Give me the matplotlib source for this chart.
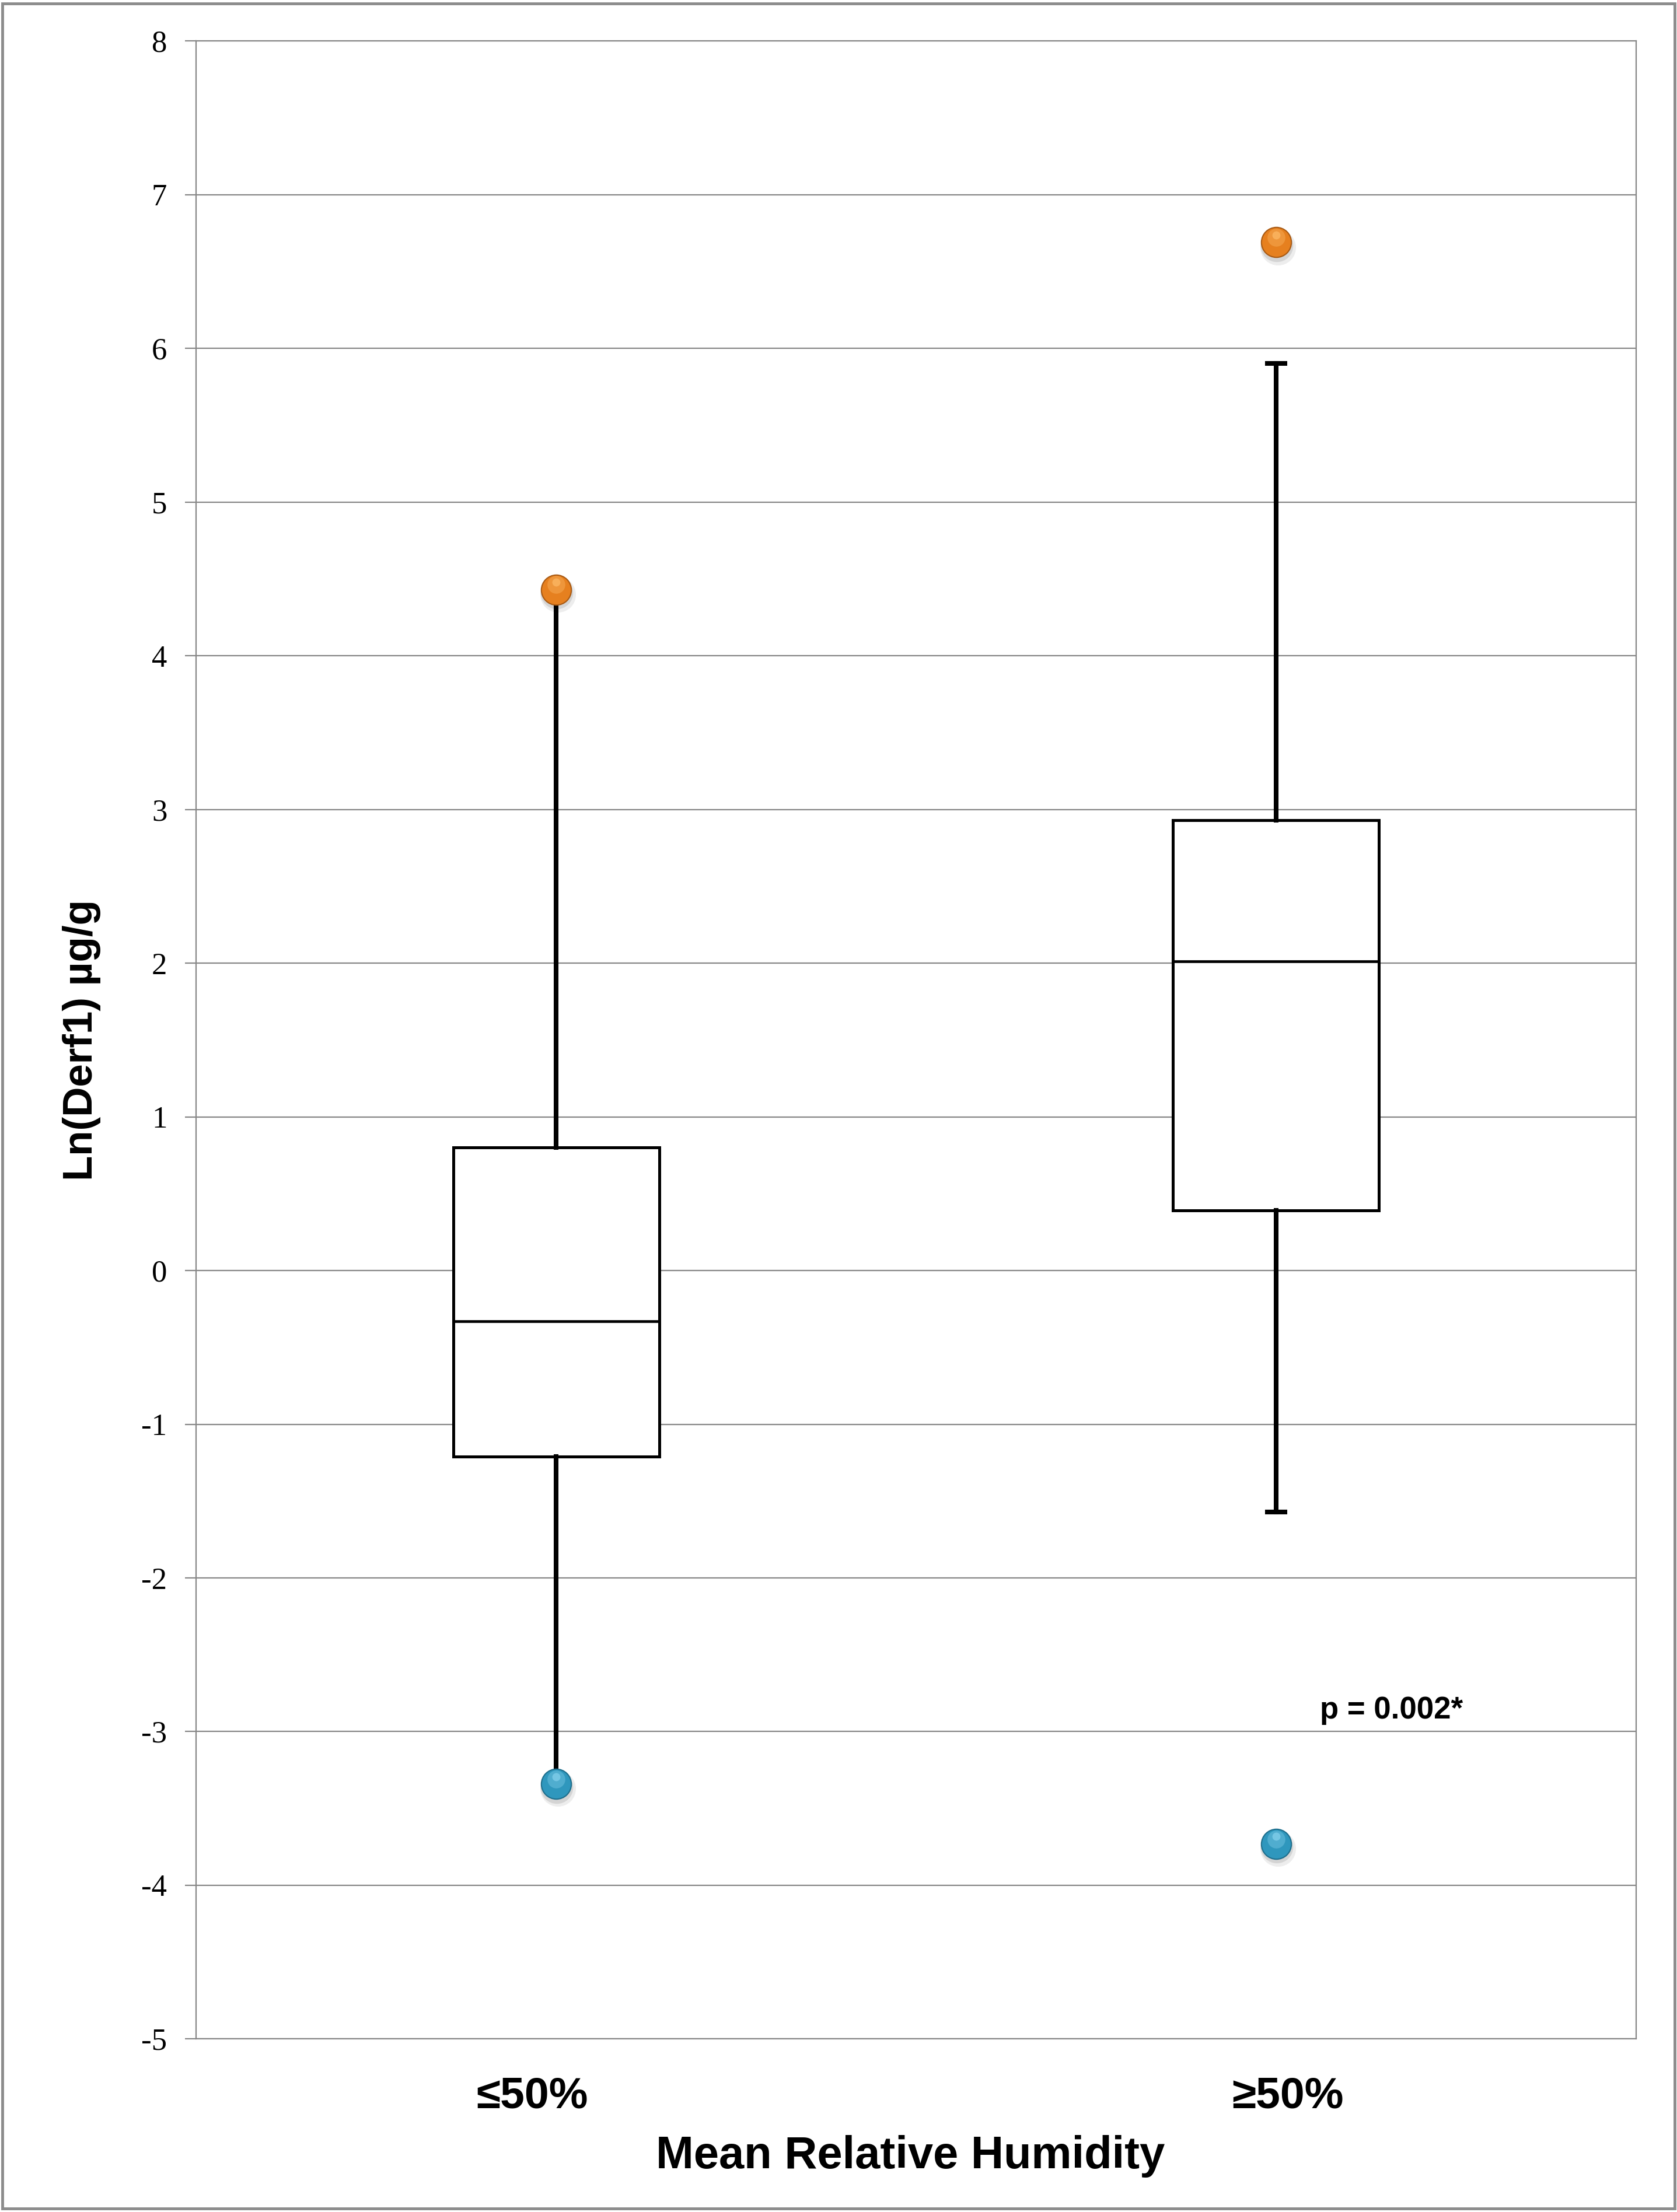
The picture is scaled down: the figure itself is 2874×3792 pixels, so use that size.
import matplotlib
matplotlib.use("Agg")
import matplotlib.pyplot as plt
from matplotlib.patches import Rectangle
from matplotlib.transforms import ScaledTranslation

# data
groups = ['≤50%', '≥50%']
q1 = [-1.21, 0.39]
med = [-0.33, 2.01]
q3 = [0.80, 2.93]
whis_lo = [-3.34, -1.57]
whis_hi = [4.43, 5.90]
max_pts = [4.43, 6.69]   # orange dots
min_pts = [-3.34, -3.73]  # blue dots
p_text = 'p = 0.002*'
yticks = list(range(-5, 9))

DPI = 100
fig = plt.figure(figsize=(28.74, 37.92), dpi=DPI, facecolor='white')
ax = fig.add_axes([0.1170, 0.0782, 0.8585, 0.9033])

narrow = ['Liberation Sans Narrow', 'Liberation Sans', 'DejaVu Sans']
grid_c = '#878787'

pos = [1, 2]
stats = []
for i in range(len(groups)):
    stats.append(dict(med=med[i], q1=q1[i], q3=q3[i], whislo=whis_lo[i],
                      whishi=whis_hi[i], fliers=[], label=groups[i]))

ax.bxp(stats, positions=pos, widths=0.286, patch_artist=True, showfliers=False,
       boxprops=dict(facecolor='white', edgecolor='black', linewidth=3.6),
       medianprops=dict(color='black', linewidth=3.4),
       whiskerprops=dict(color='black', linewidth=5.8),
       capprops=dict(color='black', linewidth=5.8),
       capwidths=0.024, zorder=3)

def shift(dx, dy):
    return ax.transData + ScaledTranslation(dx / 72, dy / 72, fig.dpi_scale_trans)

def ball(x, y, base, dark, light):
    # fake 3d sphere: soft shadow, body, highlight
    ax.plot(x, y, 'o', ms=44, color='#000000', alpha=0.07, mec='none', zorder=4,
            transform=shift(2, -6))
    ax.plot(x, y, 'o', ms=40, color='#000000', alpha=0.10, mec='none', zorder=4,
            transform=shift(1, -4))
    ax.plot(x, y, 'o', ms=37, color=base, mec=dark, mew=1.5, zorder=5)
    ax.plot(x, y, 'o', ms=22, color=light, alpha=0.35, mec='none', zorder=6,
            transform=shift(0, 6))
    ax.plot(x, y, 'o', ms=10, color=light, alpha=0.6, mec='none', zorder=6,
            transform=shift(0, 9))

ball(pos, max_pts, '#E6801F', '#A85A14', '#FFC070')
ball(pos, min_pts, '#2F97BD', '#1E6E8C', '#8ED8F2')

ax.set_xlim(0.5, 2.5)
ax.set_ylim(-5, 8)
ax.set_yticks(yticks)
ax.set_yticklabels([str(t) for t in yticks], family='Liberation Serif', fontsize=38)
ax.yaxis.grid(True, color=grid_c, linewidth=1.6, zorder=0)
ax.set_axisbelow(True)
ax.tick_params(axis='y', length=14, width=1.6, color=grid_c, pad=22)
for s in ax.spines.values():
    s.set_color(grid_c)
    s.set_linewidth(1.6)

# category labels sit a little off the box centres in the original
ax.set_xticks([0.967, 2.016])
ax.set_xticklabels(groups, family=narrow, fontweight='bold', fontsize=54)
ax.tick_params(axis='x', length=0, pad=46)

ax.text(2.16, -2.86, p_text, family='Liberation Sans', fontweight='bold',
        fontsize=38, ha='center', va='center')

fig.text(0.543, 0.0253, 'Mean Relative Humidity', family=narrow,
         fontweight='bold', fontsize=56, ha='center', va='center')
fig.text(0.0487, 0.0782 + 0.9033 / 2, 'Ln(Derf1) µg/g', family=narrow,
         fontweight='bold', fontsize=51, rotation=90, ha='center', va='center')

fig.patches.append(Rectangle((0.0015, 0.0015), 0.997, 0.997, transform=fig.transFigure,
                             fill=False, edgecolor='#8c8c8c', linewidth=3.5))

fig.savefig('out.png', dpi=DPI, facecolor='white')
